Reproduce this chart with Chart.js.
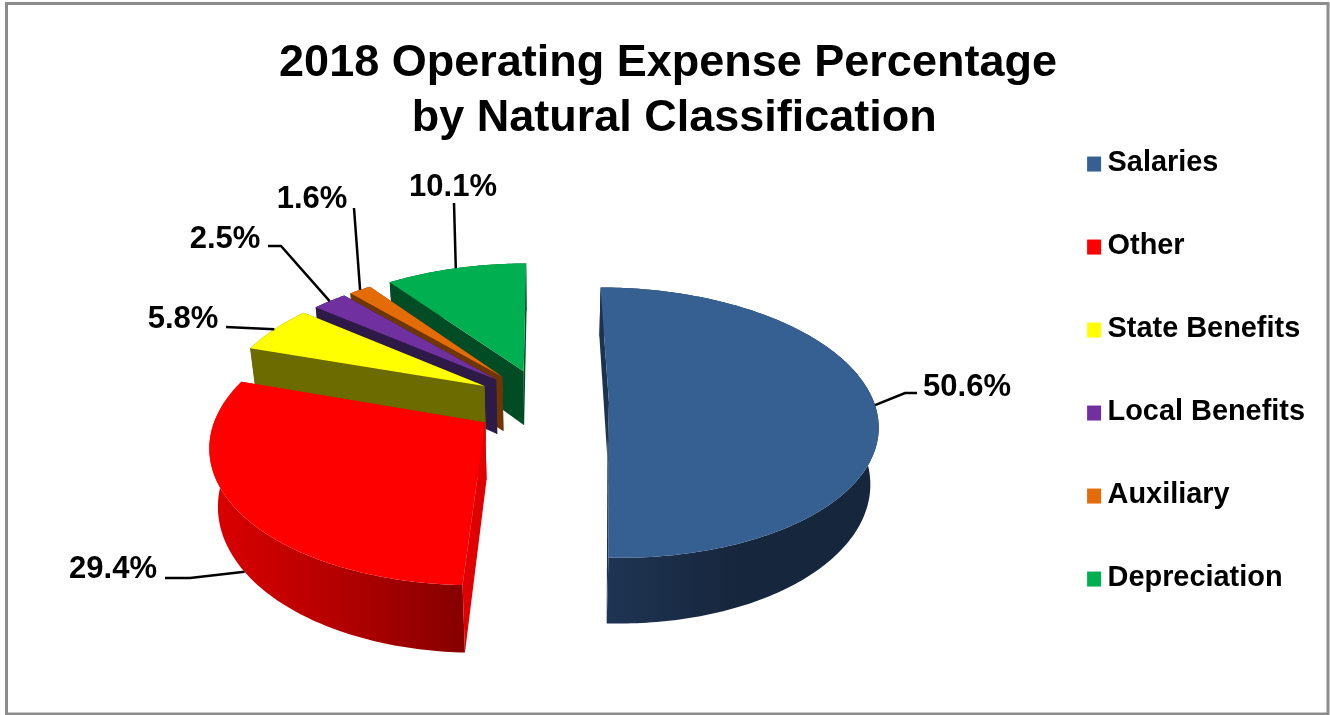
<!DOCTYPE html>
<html>
<head>
<meta charset="utf-8">
<title>2018 Operating Expense Percentage</title>
<script src="https://cdn.jsdelivr.net/npm/chart.js@4/dist/chart.umd.min.js"></script>
<style>
  html, body { margin: 0; background: #fff; }
  canvas { display: block; }
</style>
</head>
<body>
<canvas id="expenseChart" width="1330" height="715"></canvas>
<script>
// Chart values
const categories = ['Salaries', 'Other', 'State Benefits', 'Local Benefits', 'Auxiliary', 'Depreciation'];
const percentages = [50.6, 29.4, 5.8, 2.5, 1.6, 10.1];
const explode = [24.5, 26.5, 26, 25.5, 25.5, 25.5];

// Slice colours: top face, cut faces, outer wall (left, middle, right)
const topColors = ['#366092', '#ff0000', '#ffff00', '#7030a0', '#e36c09', '#00b050'];
const cutColors = ['#1c3350', '#e00000', '#6b6b00', '#2e1a47', '#6e3505', '#004d25'];
const wallColors = [
  ['#1f3554', '#16263c', '#16263c'],
  ['#dc0000', '#b40000', '#860000'],
  ['#6b6b00', '#6b6b00', '#6b6b00'],
  ['#2e1a47', '#2e1a47', '#2e1a47'],
  ['#6e3505', '#6e3505', '#6e3505'],
  ['#004d25', '#004d25', '#004d25']
];

// Label text centres and leader line bends, one entry per slice
const labelCenters = [[967, 387], [113, 569], [183, 319], [225, 239], [312, 199], [453, 187]];
const leaderStarts = [[917, 393], [165, 578], [226, 327], [268, 246], [354, 208], [454, 203]];
const leaderBends = [[905, 393], [190, 578], null, [281, 246], null, null];
const leaderDepth = [0, 1, 0, 0, 0, 0];

// Perspective camera looking down on the pie plane
const camera = { cx: 544, cy: 402, sx: 265, sy: 132, tilt: 0.148, taper: 0.025, depth: 56 };

function project(x, y, z) {
  const w = 1 - camera.tilt * y;
  return [camera.cx + camera.sx * x / (w + camera.taper * z), camera.cy + (camera.sy * y + camera.depth * z) / w];
}

function fillPolygon(ctx, points, fill) {
  ctx.beginPath();
  points.forEach((p, i) => (i ? ctx.lineTo(p[0], p[1]) : ctx.moveTo(p[0], p[1])));
  ctx.closePath();
  ctx.fillStyle = fill;
  ctx.fill();
}

// Plane position of a slice's tip, pushed out along its bisector
function sliceApex(arc, index) {
  const mid = (arc.startAngle + arc.endAngle) / 2;
  const push = explode[index] / arc.outerRadius;
  return [push * Math.cos(mid), push * Math.sin(mid)];
}

function drawSlice(ctx, arc, index) {
  const apex = sliceApex(arc, index);
  const steps = Math.max(4, Math.ceil((arc.endAngle - arc.startAngle) * 60));
  const rim = [];
  for (let i = 0; i <= steps; i++) {
    const a = arc.startAngle + (arc.endAngle - arc.startAngle) * i / steps;
    rim.push([apex[0] + Math.cos(a), apex[1] + Math.sin(a)]);
  }
  const top = rim.map(p => project(p[0], p[1], 0));
  const bottom = rim.map(p => project(p[0], p[1], 1));
  const apexTop = project(apex[0], apex[1], 0);
  const apexBottom = project(apex[0], apex[1], 1);

  // Outer wall shaded from left to right
  const xs = top.concat(bottom).map(p => p[0]);
  const shade = ctx.createLinearGradient(Math.min(...xs), 0, Math.max(...xs), 0);
  wallColors[index].forEach((c, i) => shade.addColorStop(i / 2, c));
  fillPolygon(ctx, top.concat(bottom.slice().reverse()), shade);

  // Cut faces, then the top
  fillPolygon(ctx, [apexTop, top[0], bottom[0], apexBottom], cutColors[index]);
  fillPolygon(ctx, [apexTop, top[steps], bottom[steps], apexBottom], cutColors[index]);
  fillPolygon(ctx, [apexTop].concat(top), topColors[index]);
}

const pie3d = {
  id: 'pie3d',
  afterLayout(chart) {
    // Legend column sits in the right margin
    const legend = chart.legend;
    legend.left = 1039;
    legend.right = 1330;
    legend.top = 94;
    legend.bottom = 715;
  },
  beforeDraw(chart) {
    const ctx = chart.ctx;
    ctx.save();
    ctx.strokeStyle = '#8c8c8c';
    ctx.lineWidth = 3;
    ctx.strokeRect(6.5, 3.5, 1321.5, 710.5);
    ctx.restore();
  },
  beforeDatasetDraw(chart, args) {
    // Slices are painted back to front, last index is the farthest
    const arcs = args.meta.data;
    for (let i = arcs.length - 1; i >= 0; i--) drawSlice(chart.ctx, arcs[i], i);
    return false;
  },
  afterDraw(chart) {
    const ctx = chart.ctx;
    const arcs = chart.getDatasetMeta(0).data;
    ctx.save();

    // Leader lines and value labels
    ctx.strokeStyle = '#000';
    ctx.lineWidth = 2.5;
    ctx.fillStyle = '#000';
    ctx.font = 'bold 31px "Liberation Sans", Arial, sans-serif';
    ctx.textAlign = 'center';
    ctx.textBaseline = 'middle';
    arcs.forEach((arc, i) => {
      const apex = sliceApex(arc, i);
      const mid = (arc.startAngle + arc.endAngle) / 2;
      const end = project(apex[0] + Math.cos(mid), apex[1] + Math.sin(mid), leaderDepth[i]);
      ctx.beginPath();
      ctx.moveTo(leaderStarts[i][0], leaderStarts[i][1]);
      if (leaderBends[i]) ctx.lineTo(leaderBends[i][0], leaderBends[i][1]);
      ctx.lineTo(end[0], end[1]);
      ctx.stroke();
      ctx.fillText(percentages[i].toFixed(1) + '%', labelCenters[i][0], labelCenters[i][1]);
    });

    // Small square markers in front of the legend text
    chart.legend.legendHitBoxes.forEach((box, i) => {
      ctx.fillStyle = topColors[i];
      ctx.fillRect(box.left - 6, box.top + box.height / 2 - 6, 14, 15);
    });
    ctx.restore();
  }
};

new Chart(document.getElementById('expenseChart'), {
  type: 'pie',
  data: {
    labels: categories,
    datasets: [{ data: percentages, backgroundColor: topColors, offset: explode, borderWidth: 0 }]
  },
  options: {
    responsive: false,
    animation: false,
    radius: 100,
    rotation: 0,
    layout: { padding: { left: 6 } },
    plugins: {
      tooltip: { enabled: false },
      title: {
        display: true,
        text: ['2018 Operating Expense Percentage', ' by Natural Classification'],
        color: '#000',
        font: { family: '"Liberation Sans", Arial, sans-serif', size: 45, weight: 'bold', lineHeight: 1.22 },
        padding: { top: 36, bottom: 10 }
      },
      legend: {
        position: 'right',
        align: 'start',
        labels: {
          color: '#000',
          boxWidth: 0,
          boxHeight: 0,
          padding: 54.1,
          font: { family: '"Liberation Sans", Arial, sans-serif', size: 28.9, weight: 'bold' }
        }
      }
    }
  },
  plugins: [pie3d]
});
</script>
</body>
</html>
